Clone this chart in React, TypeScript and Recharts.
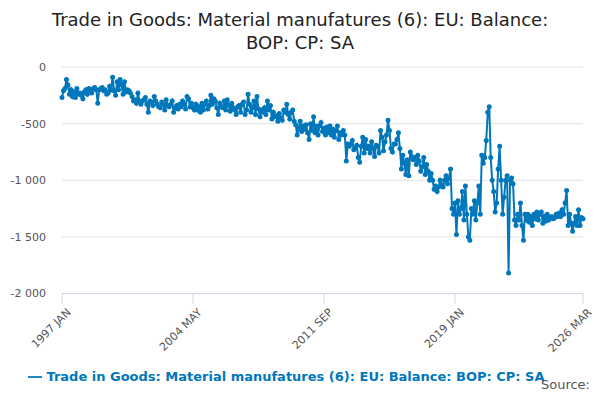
import { LineChart, Line, XAxis, YAxis, CartesianGrid, Legend } from "recharts";

const MONTHS = ["JAN", "FEB", "MAR", "APR", "MAY", "JUN", "JUL", "AUG", "SEP", "OCT", "NOV", "DEC"];

// monthly balance, £m, 1997 JAN .. 2026 MAR
const VALUES: number[] = [
  -270, -210, -190, -110, -160, -240, -200, -260, -220, -270, -190, -240,
  -230, -250, -280, -220, -200, -240, -190, -210, -230, -190, -180, -200,
  -320, -200, -190, -180, -210, -200, -240, -230, -170, -200, -90, -210,
  -250, -130, -200, -110, -160, -240, -130, -220, -200, -210, -230, -260,
  -300, -290, -320, -230, -300, -330, -300, -290, -270, -330, -400, -300,
  -310, -340, -260, -300, -330, -350, -360, -310, -330, -380, -290, -340,
  -350, -330, -300, -400, -360, -340, -370, -330, -350, -300, -330, -370,
  -260, -280, -350, -320, -360, -380, -330, -380, -350, -400, -320, -380,
  -330, -300, -370, -340, -250, -330, -280, -300, -360, -420, -320, -350,
  -360, -300, -380, -290, -340, -390, -320, -360, -380, -420, -350, -340,
  -400, -330, -310, -420, -380, -240, -330, -400, -360, -300, -420, -260,
  -370, -440, -380, -400, -360, -420, -300, -380, -340, -460, -400, -440,
  -430, -480, -410, -450, -470, -380, -400, -330, -420, -460, -400, -380,
  -480, -510, -600, -540, -480, -570, -520, -550, -510, -580, -640, -500,
  -560, -440, -580, -520, -600, -520, -490, -570, -540, -600, -530, -580,
  -520, -600, -550, -620, -560, -520, -640, -580, -600, -560, -600, -830,
  -680, -700, -680, -650, -730, -720, -690, -800, -840, -700, -620, -760,
  -640, -720, -700, -760, -660, -720, -790, -690, -700, -760, -560, -620,
  -740, -660, -600, -470, -560, -720, -750, -680, -680, -640, -580, -720,
  -900, -780, -850, -950, -820, -960, -750, -790, -820, -800, -860, -780,
  -830, -920, -880, -800, -950, -860, -920, -1000, -940, -1000, -1080, -1050,
  -1100, -1060, -1000, -1040, -1060, -1000, -960, -1030, -980, -900, -1250, -1300,
  -1200, -1480, -1180, -1300, -1250, -1100, -1350, -1050, -1300, -1500, -1530, -1250,
  -1300, -1180, -1350, -1200, -1050, -1300, -780, -850, -800, -650, -400, -350,
  -800, -1000, -1100, -1280, -1200, -900, -700, -1000, -1300, -1150, -1000, -960,
  -1820, -1000, -980, -1030, -1350, -1400, -1300, -1350, -1200, -1400, -1530, -1300,
  -1350, -1300, -1370, -1320, -1400, -1300, -1340, -1280, -1350, -1300, -1280, -1380,
  -1320, -1360, -1300, -1350, -1330, -1320, -1340, -1330, -1300, -1320, -1290, -1320,
  -1260, -1300, -1200, -1090, -1400, -1300, -1380, -1450, -1380, -1320, -1400, -1260,
  -1400, -1330, -1340,
];

const data = VALUES.map((v, i) => ({
  label: `${1997 + Math.floor(i / 12)} ${MONTHS[i % 12]}`,
  value: v,
}));

const TICKS = ["1997 JAN", "2004 MAY", "2011 SEP", "2019 JAN", "2026 MAR"];
const Y_TICKS = [0, -500, -1000, -1500, -2000];

const FONT = "'DejaVu Sans', sans-serif";
const NAME = "Trade in Goods: Material manufatures (6): EU: Balance: BOP: CP: SA";

export default function App() {
  return (
    <div style={{ width: 600, height: 400, position: "relative", fontFamily: FONT, margin: -8 }}>
      <div
        style={{
          position: "absolute",
          top: 8,
          width: 600,
          textAlign: "center",
          fontSize: 18,
          color: "#222",
          lineHeight: "23px",
        }}
      >
        Trade in Goods: Material manufatures (6): EU: Balance:
        <br />
        BOP: CP: SA
      </div>
      <LineChart
        width={600}
        height={400}
        data={data}
        margin={{ top: 67, right: 17, left: 0, bottom: 44 }}
      >
        <CartesianGrid vertical={false} stroke="#e0e0e0" />
        <XAxis
          dataKey="label"
          ticks={TICKS}
          interval={0}
          height={47}
          tick={{ fill: "#555", fontSize: 11, angle: -45, textAnchor: "end", dx: 4, dy: 2 }}
          stroke="#ccd6eb"
          tickSize={10}
        />
        <YAxis
          domain={[-2000, 0]}
          ticks={Y_TICKS}
          tickFormatter={(v: number) => (v === 0 ? "0" : `-${Math.abs(v).toLocaleString("en").replace(",", " ")}`)}
          tick={{ fill: "#555", fontSize: 11 }}
          axisLine={false}
          tickLine={false}
          width={62}
          dx={-8}
        />
        <Legend
          verticalAlign="bottom"
          align="center"
          wrapperStyle={{ bottom: 16, fontWeight: "bold", fontSize: 13, color: "#333" }}
          iconType="plainline"
        />
        <Line
          dataKey="value"
          name={NAME}
          stroke="#0077bb"
          strokeWidth={2}
          dot={{ r: 1.5, fill: "#0077bb", stroke: "#0077bb" }}
          isAnimationActive={false}
        />
      </LineChart>
      <div style={{ position: "absolute", right: 10, bottom: 8, fontSize: 13, color: "#555" }}>Source:</div>
    </div>
  );
}
